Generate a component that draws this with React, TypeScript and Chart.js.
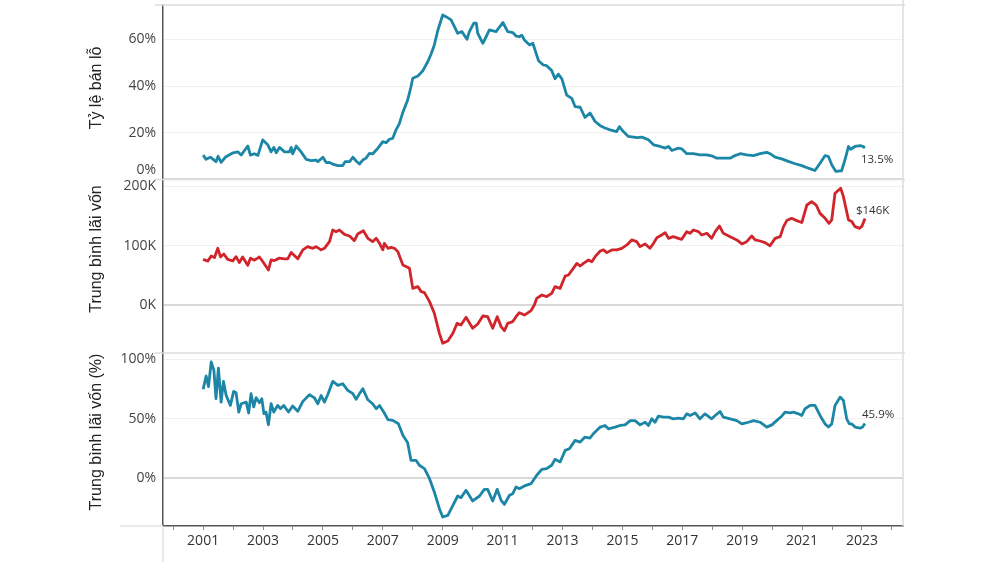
import { useEffect, useRef } from "react";
import { Chart, registerables } from "chart.js";

Chart.register(...registerables);

// Tỷ lệ bán lỗ (%) — [year, value]
const lossRate: [number, number][] = [
  [2001.0, 10.4], [2001.1, 8.6], [2001.24, 9.5], [2001.43, 7.6], [2001.5, 9.9], [2001.6, 7.3], [2001.75, 9.6],
  [2002.0, 11.4], [2002.16, 11.8], [2002.27, 10.4], [2002.49, 14.3], [2002.58, 10.4], [2002.71, 11.0], [2002.83, 10.3],
  [2002.99, 16.9], [2003.16, 14.8], [2003.27, 11.8], [2003.36, 13.7], [2003.44, 11.4], [2003.55, 13.7], [2003.72, 11.8],
  [2003.88, 11.8], [2003.94, 13.7], [2003.99, 10.9], [2004.11, 14.3], [2004.27, 11.8], [2004.44, 8.6], [2004.61, 8.0],
  [2004.77, 8.3], [2004.83, 7.6], [2005.0, 9.5], [2005.11, 7.2], [2005.22, 7.3], [2005.33, 6.5], [2005.5, 5.9],
  [2005.66, 5.9], [2005.74, 7.6], [2005.89, 7.6], [2006.0, 9.5], [2006.11, 7.9], [2006.22, 6.6], [2006.33, 8.3],
  [2006.44, 9.1], [2006.55, 11.1], [2006.66, 10.9], [2006.78, 12.6], [2006.83, 13.3], [2007.0, 16.2], [2007.11, 15.7],
  [2007.22, 17.2], [2007.33, 17.6], [2007.44, 21.2], [2007.55, 23.8], [2007.66, 28.4], [2007.83, 34.0], [2007.94, 39.7],
  [2008.0, 43.3], [2008.17, 44.3], [2008.33, 46.4], [2008.5, 50.4], [2008.61, 53.6], [2008.72, 57.6], [2008.84, 64.0],
  [2009.0, 70.4], [2009.11, 69.7], [2009.28, 68.3], [2009.39, 65.4], [2009.5, 62.6], [2009.64, 63.3], [2009.81, 60.0],
  [2009.89, 63.3], [2010.04, 66.9], [2010.12, 66.9], [2010.17, 62.6], [2010.34, 58.3], [2010.45, 61.1], [2010.56, 64.0],
  [2010.78, 63.3], [2011.01, 67.2], [2011.17, 63.3], [2011.34, 62.9], [2011.45, 61.4], [2011.56, 61.1], [2011.64, 61.8],
  [2011.73, 59.7], [2011.9, 57.6], [2012.01, 58.3], [2012.12, 54.0], [2012.2, 50.8], [2012.36, 49.0], [2012.47, 48.7],
  [2012.64, 46.6], [2012.75, 43.1], [2012.86, 45.1], [2012.98, 43.1], [2013.14, 36.1], [2013.31, 34.7], [2013.42, 31.2],
  [2013.59, 30.9], [2013.75, 26.6], [2013.92, 28.4], [2014.09, 24.8], [2014.26, 23.0], [2014.42, 22.0], [2014.59, 21.2],
  [2014.81, 20.5], [2014.9, 22.6], [2015.03, 20.5], [2015.2, 18.4], [2015.48, 17.9], [2015.65, 18.1], [2015.87, 17.0],
  [2016.04, 14.8], [2016.26, 14.1], [2016.43, 13.4], [2016.54, 14.1], [2016.65, 12.4], [2016.87, 13.4], [2016.98, 13.1],
  [2017.15, 11.0], [2017.37, 11.0], [2017.59, 10.5], [2017.82, 10.5], [2017.98, 10.1], [2018.15, 9.1], [2018.37, 9.1],
  [2018.6, 9.1], [2018.76, 10.2], [2018.93, 11.0], [2019.15, 10.5], [2019.38, 10.2], [2019.6, 11.0], [2019.82, 11.6],
  [2019.93, 11.0], [2020.1, 9.5], [2020.32, 8.8], [2020.54, 7.7], [2020.77, 6.7], [2020.99, 5.9], [2021.21, 4.8],
  [2021.43, 3.8], [2021.6, 6.9], [2021.77, 10.2], [2021.88, 9.8], [2021.99, 6.3], [2022.13, 3.4], [2022.32, 3.7],
  [2022.43, 8.3], [2022.55, 14.1], [2022.62, 12.9], [2022.77, 14.1], [2022.94, 14.5], [2023.02, 14.2], [2023.1, 13.5],
];

// Trung bình lãi vốn (nghìn USD)
const gainUsd: [number, number][] = [
  [2001.0, 77], [2001.16, 74], [2001.27, 82.6], [2001.38, 80], [2001.49, 95.6], [2001.58, 81], [2001.69, 86],
  [2001.82, 77], [2001.99, 74.4], [2002.1, 81.5], [2002.21, 71.5], [2002.32, 80.9], [2002.49, 67], [2002.58, 79],
  [2002.71, 75.6], [2002.88, 80.9], [2002.99, 73.3], [2003.18, 59], [2003.27, 76], [2003.38, 75], [2003.55, 79],
  [2003.72, 77.7], [2003.83, 78], [2003.94, 88.7], [2004.16, 78], [2004.33, 93], [2004.49, 98.4], [2004.66, 95.6],
  [2004.77, 98.4], [2004.94, 93], [2005.05, 95.6], [2005.22, 106.8], [2005.33, 126.5], [2005.44, 123.7], [2005.55, 126.5],
  [2005.72, 119], [2005.89, 116.3], [2006.05, 108.5], [2006.16, 119.7], [2006.35, 125.3], [2006.5, 112.4], [2006.66, 106.8],
  [2006.78, 112.4], [2006.89, 104], [2007.0, 93], [2007.05, 104], [2007.17, 95.6], [2007.28, 97], [2007.39, 95.6],
  [2007.5, 90], [2007.67, 67.5], [2007.89, 62], [2008.0, 28.1], [2008.17, 31], [2008.28, 22.5], [2008.39, 20.8],
  [2008.56, 5.6], [2008.72, -14], [2008.89, -47.8], [2009.0, -64.6], [2009.17, -60.7], [2009.34, -47.8], [2009.48, -31],
  [2009.61, -33.8], [2009.78, -20.8], [2010.0, -39.3], [2010.17, -32], [2010.34, -18.6], [2010.5, -19.7], [2010.67, -39.3],
  [2010.82, -19.7], [2010.95, -36.5], [2011.06, -43.3], [2011.17, -31], [2011.34, -28], [2011.45, -19.7], [2011.56, -13],
  [2011.73, -17], [2011.95, -9.6], [2012.06, 0], [2012.14, 11.2], [2012.31, 16.8], [2012.47, 14], [2012.64, 19.7],
  [2012.75, 30.9], [2012.92, 28], [2013.09, 48.9], [2013.2, 50.6], [2013.36, 61.8], [2013.48, 70.2], [2013.59, 65.7],
  [2013.7, 70.2], [2013.87, 75.9], [2013.98, 73], [2014.09, 81.5], [2014.26, 91], [2014.37, 92.8], [2014.48, 88.3],
  [2014.65, 92.8], [2014.81, 92.8], [2014.98, 95.6], [2015.15, 101.3], [2015.31, 109.7], [2015.48, 106.8], [2015.59, 98.4],
  [2015.76, 102.9], [2015.92, 95.6], [2016.04, 104], [2016.15, 113.5], [2016.31, 118], [2016.43, 122], [2016.54, 112.4],
  [2016.7, 115.2], [2016.87, 112.4], [2016.98, 110.8], [2017.15, 123.7], [2017.26, 120.9], [2017.37, 126.5], [2017.54, 123.7],
  [2017.65, 118], [2017.82, 120.9], [2017.98, 112.4], [2018.1, 123.7], [2018.24, 133.2], [2018.37, 120.9], [2018.6, 115.2],
  [2018.82, 109.7], [2018.99, 102.9], [2019.15, 106.8], [2019.32, 116.3], [2019.43, 109.7], [2019.6, 107.9], [2019.76, 105.1],
  [2019.93, 100], [2020.1, 112.4], [2020.27, 115.2], [2020.38, 132.1], [2020.49, 142.3], [2020.65, 146.2], [2020.82, 142.3],
  [2020.99, 139], [2021.16, 168.6], [2021.32, 174.2], [2021.47, 168.6], [2021.6, 154.5], [2021.77, 146.2], [2021.9, 137.8],
  [2021.99, 143.4], [2022.1, 188.4], [2022.29, 196.8], [2022.38, 182.7], [2022.55, 143.4], [2022.66, 140.6], [2022.77, 132.1],
  [2022.92, 129.3], [2023.0, 133], [2023.1, 146],
];

// Trung bình lãi vốn (%)
const gainPct: [number, number][] = [
  [2001.0, 74.8], [2001.1, 86], [2001.18, 77], [2001.27, 97.8], [2001.36, 90.8], [2001.43, 66.9], [2001.51, 92.7],
  [2001.6, 64], [2001.68, 81.4], [2001.77, 69.6], [2001.91, 61.2], [2002.02, 73], [2002.1, 71.9], [2002.19, 55.6],
  [2002.27, 62.6], [2002.44, 64], [2002.52, 54.8], [2002.6, 71.1], [2002.69, 59.9], [2002.77, 67.7], [2002.88, 63.5],
  [2002.96, 66.9], [2003.03, 54.2], [2003.1, 55.6], [2003.18, 44.9], [2003.27, 62.6], [2003.36, 55.6], [2003.49, 61.2],
  [2003.58, 58.4], [2003.69, 61.2], [2003.85, 55.6], [2003.99, 60.7], [2004.16, 56.2], [2004.33, 64.6], [2004.55, 70.2],
  [2004.72, 67.5], [2004.83, 62.6], [2004.94, 69.6], [2005.05, 64], [2005.16, 70.2], [2005.33, 81.5], [2005.5, 78.1],
  [2005.66, 79.5], [2005.83, 73.9], [2006.0, 71.1], [2006.11, 66.3], [2006.22, 71.1], [2006.33, 75.3], [2006.5, 66],
  [2006.66, 62.6], [2006.78, 58.4], [2006.89, 61.2], [2007.05, 54.8], [2007.17, 49.2], [2007.33, 48.6], [2007.52, 45.8],
  [2007.67, 36], [2007.83, 29.8], [2007.94, 14.9], [2008.11, 14.9], [2008.22, 10.7], [2008.39, 7.9], [2008.56, -0.6],
  [2008.72, -11.8], [2008.89, -25.9], [2009.0, -32.9], [2009.17, -31.5], [2009.34, -23.1], [2009.5, -15.2], [2009.61, -16.6],
  [2009.78, -10.4], [2010.0, -19.4], [2010.23, -15.2], [2010.39, -9.6], [2010.5, -9.6], [2010.67, -19.4], [2010.82, -9.6],
  [2010.95, -18.8], [2011.06, -22.2], [2011.23, -14.6], [2011.34, -13.2], [2011.45, -7.6], [2011.56, -9], [2011.73, -6.7],
  [2011.95, -4.8], [2012.06, -0.6], [2012.14, 2.3], [2012.31, 7.3], [2012.47, 7.9], [2012.64, 10.7], [2012.75, 15.7],
  [2012.92, 13.5], [2013.09, 23.3], [2013.23, 24.7], [2013.42, 31.7], [2013.59, 30.3], [2013.75, 34.5], [2013.92, 33.7],
  [2014.03, 37.3], [2014.14, 40.1], [2014.26, 42.9], [2014.42, 44.3], [2014.53, 41.5], [2014.76, 42.9], [2014.92, 44.3],
  [2015.09, 44.8], [2015.26, 48.4], [2015.42, 48.4], [2015.59, 44.8], [2015.76, 47], [2015.87, 44.3], [2015.98, 49.9],
  [2016.09, 47], [2016.2, 52.1], [2016.37, 51.3], [2016.54, 51.3], [2016.7, 49.9], [2016.87, 50.4], [2017.04, 49.9],
  [2017.15, 54.1], [2017.26, 52.7], [2017.43, 54.9], [2017.59, 49.9], [2017.76, 54.1], [2017.98, 49.9], [2018.1, 52.7],
  [2018.26, 56.1], [2018.37, 51.3], [2018.6, 49.9], [2018.82, 48.4], [2018.99, 45.6], [2019.21, 47], [2019.38, 48.4],
  [2019.6, 47], [2019.82, 42.9], [2019.99, 44.8], [2020.15, 48.4], [2020.32, 52.1], [2020.43, 55.5], [2020.6, 54.9],
  [2020.71, 55.5], [2020.88, 54.1], [2020.99, 52.7], [2021.1, 58.4], [2021.27, 61.2], [2021.43, 61.2], [2021.6, 52.7],
  [2021.77, 45.6], [2021.88, 42.9], [2021.99, 45.6], [2022.1, 61.2], [2022.27, 68.2], [2022.38, 65.4], [2022.49, 49.9],
  [2022.58, 45.6], [2022.66, 45.6], [2022.77, 42.9], [2022.94, 42], [2023.02, 43], [2023.1, 45.9],
];

const yearTicks = [2000, 2001, 2002, 2003, 2004, 2005, 2006, 2007, 2008, 2009, 2010, 2011, 2012, 2013, 2014, 2015, 2016,
  2017, 2018, 2019, 2020, 2021, 2022, 2023, 2024];
const yearLabels = ["2001", "2003", "2005", "2007", "2009", "2011", "2013", "2015", "2017", "2019", "2021", "2023"];
const lossTicks = [0, 20, 40, 60];
const usdTicks = [0, 100, 200];
const pctTicks = [0, 50, 100];
const panelTitles = ["Tỷ lệ bán lỗ", "Trung bình lãi vốn", "Trung bình lãi vốn (%)"];
const endLabels = ["13.5%", "$146K", "45.9%"];

const TEAL = "#1b86a6";
const RED = "#cf252b";
const TICK_FONT = { family: "'Open Sans', sans-serif", size: 14 };

const gridColor = (c: any) => (c.tick && c.tick.value === 0 ? "#d9d9d9" : "#f1f1f1");
const gridWidth = (c: any) => (c.tick && c.tick.value === 0 ? 2 : 1);

function yScale(min: number, max: number, tickVals: number[], weight: number, fmt: (v: number) => string) {
  return {
    type: "linear" as const,
    position: "left" as const,
    stack: "panels",
    stackWeight: weight,
    min,
    max,
    border: { display: true, color: "#555", width: 1.5 },
    grid: { color: gridColor, lineWidth: gridWidth, drawTicks: false },
    ticks: {
      padding: 7,
      color: "#444",
      font: TICK_FONT,
      callback: (v: any) => fmt(Number(v)),
    },
    afterBuildTicks: (s: any) => {
      s.ticks = tickVals.map((v) => ({ value: v }));
    },
    afterFit: (s: any) => {
      s.width = 163;
      s.paddingTop = 0;
      s.paddingBottom = 0;
    },
  };
}

const overlayPlugin = {
  id: "overlay",
  beforeDatasetsDraw(chart: any) {
    const { ctx, chartArea, scales } = chart;
    const line = (x1: number, y1: number, x2: number, y2: number) => {
      ctx.beginPath();
      ctx.moveTo(x1, y1);
      ctx.lineTo(x2, y2);
      ctx.stroke();
    };
    ctx.save();
    ctx.strokeStyle = "#dcdcdc";
    ctx.lineWidth = 1.5;
    [scales.y1.top, scales.y2.top, scales.y3.top].forEach((y: number) => line(155, y, 905, y));
    line(903, 0, 903, chartArea.bottom);
    ctx.strokeStyle = "#e3e3e3";
    line(120, chartArea.bottom, chartArea.left, chartArea.bottom);
    line(chartArea.left, chartArea.bottom, chartArea.left, 562);
    ctx.restore();
  },
  afterDraw(chart: any) {
    const { ctx, scales } = chart;
    ctx.save();
    ctx.fillStyle = "#222";
    ctx.font = "16px 'Liberation Sans', Arial, sans-serif";
    ctx.textAlign = "center";
    ctx.textBaseline = "middle";
    const centers = [88, 249, 432];
    panelTitles.forEach((t, i) => {
      ctx.save();
      ctx.translate(97, centers[i]);
      ctx.rotate(-Math.PI / 2);
      ctx.fillText(t, 0, 0);
      ctx.restore();
    });
    ctx.fillStyle = "#444";
    ctx.font = "14px 'Open Sans', sans-serif";
    ctx.textAlign = "right";
    ctx.fillText("0%", 156, 170);
    ctx.fillStyle = "#333";
    ctx.font = "11.5px 'Open Sans', sans-serif";
    ctx.textAlign = "left";
    const series = [lossRate, gainUsd, gainPct];
    const ids = ["y1", "y2", "y3"];
    const offs = [[-4, 12], [-9, -8], [-3, -9]];
    series.forEach((s, i) => {
      const last = s[s.length - 1];
      const px = scales.x.getPixelForValue(last[0]);
      const py = scales[ids[i]].getPixelForValue(last[1]);
      ctx.fillText(endLabels[i], px + offs[i][0], py + offs[i][1]);
    });
    ctx.restore();
  },
};

export default function App() {
  const ref = useRef<HTMLCanvasElement>(null);

  useEffect(() => {
    if (!ref.current) return;
    const toPts = (a: [number, number][]) => a.map(([x, y]) => ({ x, y }));
    const ds = (data: [number, number][], color: string, yAxisID: string) => ({
      data: toPts(data),
      borderColor: color,
      backgroundColor: color,
      borderWidth: 2.8,
      pointRadius: 0,
      tension: 0,
      borderJoinStyle: "round" as const,
      xAxisID: "x",
      yAxisID,
    });
    const chart = new Chart(ref.current, {
      type: "line",
      data: {
        datasets: [ds(lossRate, TEAL, "y1"), ds(gainUsd, RED, "y2"), ds(gainPct, TEAL, "y3")],
      },
      options: {
        responsive: false,
        animation: false,
        layout: { padding: { left: 0, top: 5, right: 97, bottom: 0 } },
        plugins: { legend: { display: false }, tooltip: { enabled: false } },
        scales: {
          x: {
            type: "linear",
            position: "bottom",
            min: 1999.66,
            max: 2024.37,
            border: { display: true, color: "#555", width: 1.5 },
            grid: { drawOnChartArea: false, drawTicks: true, tickLength: 4, color: "#888" },
            ticks: {
              autoSkip: false,
              maxRotation: 0,
              minRotation: 0,
              padding: 3,
              color: "#333",
              font: TICK_FONT,
              callback: (v: any) => (yearLabels.includes(String(v)) ? String(v) : ""),
            },
            afterBuildTicks: (s: any) => {
              s.ticks = yearTicks.map((v) => ({ value: v }));
            },
            afterFit: (s: any) => {
              s.height = 36;
              s.paddingLeft = 0;
              s.paddingRight = 0;
            },
          },
          y3: yScale(-40.5, 105.4, pctTicks, 173, (v) => `${v}%`),
          y2: yScale(-81, 211.8, usdTicks, 173.6, (v) => `${v}K`),
          y1: yScale(0, 74.7, lossTicks, 174.4, (v) => (v === 0 ? "" : `${v}%`)),
        } as any,
      },
      plugins: [overlayPlugin],
    });
    return () => chart.destroy();
  }, []);

  return (
    <div style={{ position: "fixed", left: 0, top: 0, width: 1000, height: 562, background: "#fff" }}>
      <canvas ref={ref} width={1000} height={562} />
    </div>
  );
}
